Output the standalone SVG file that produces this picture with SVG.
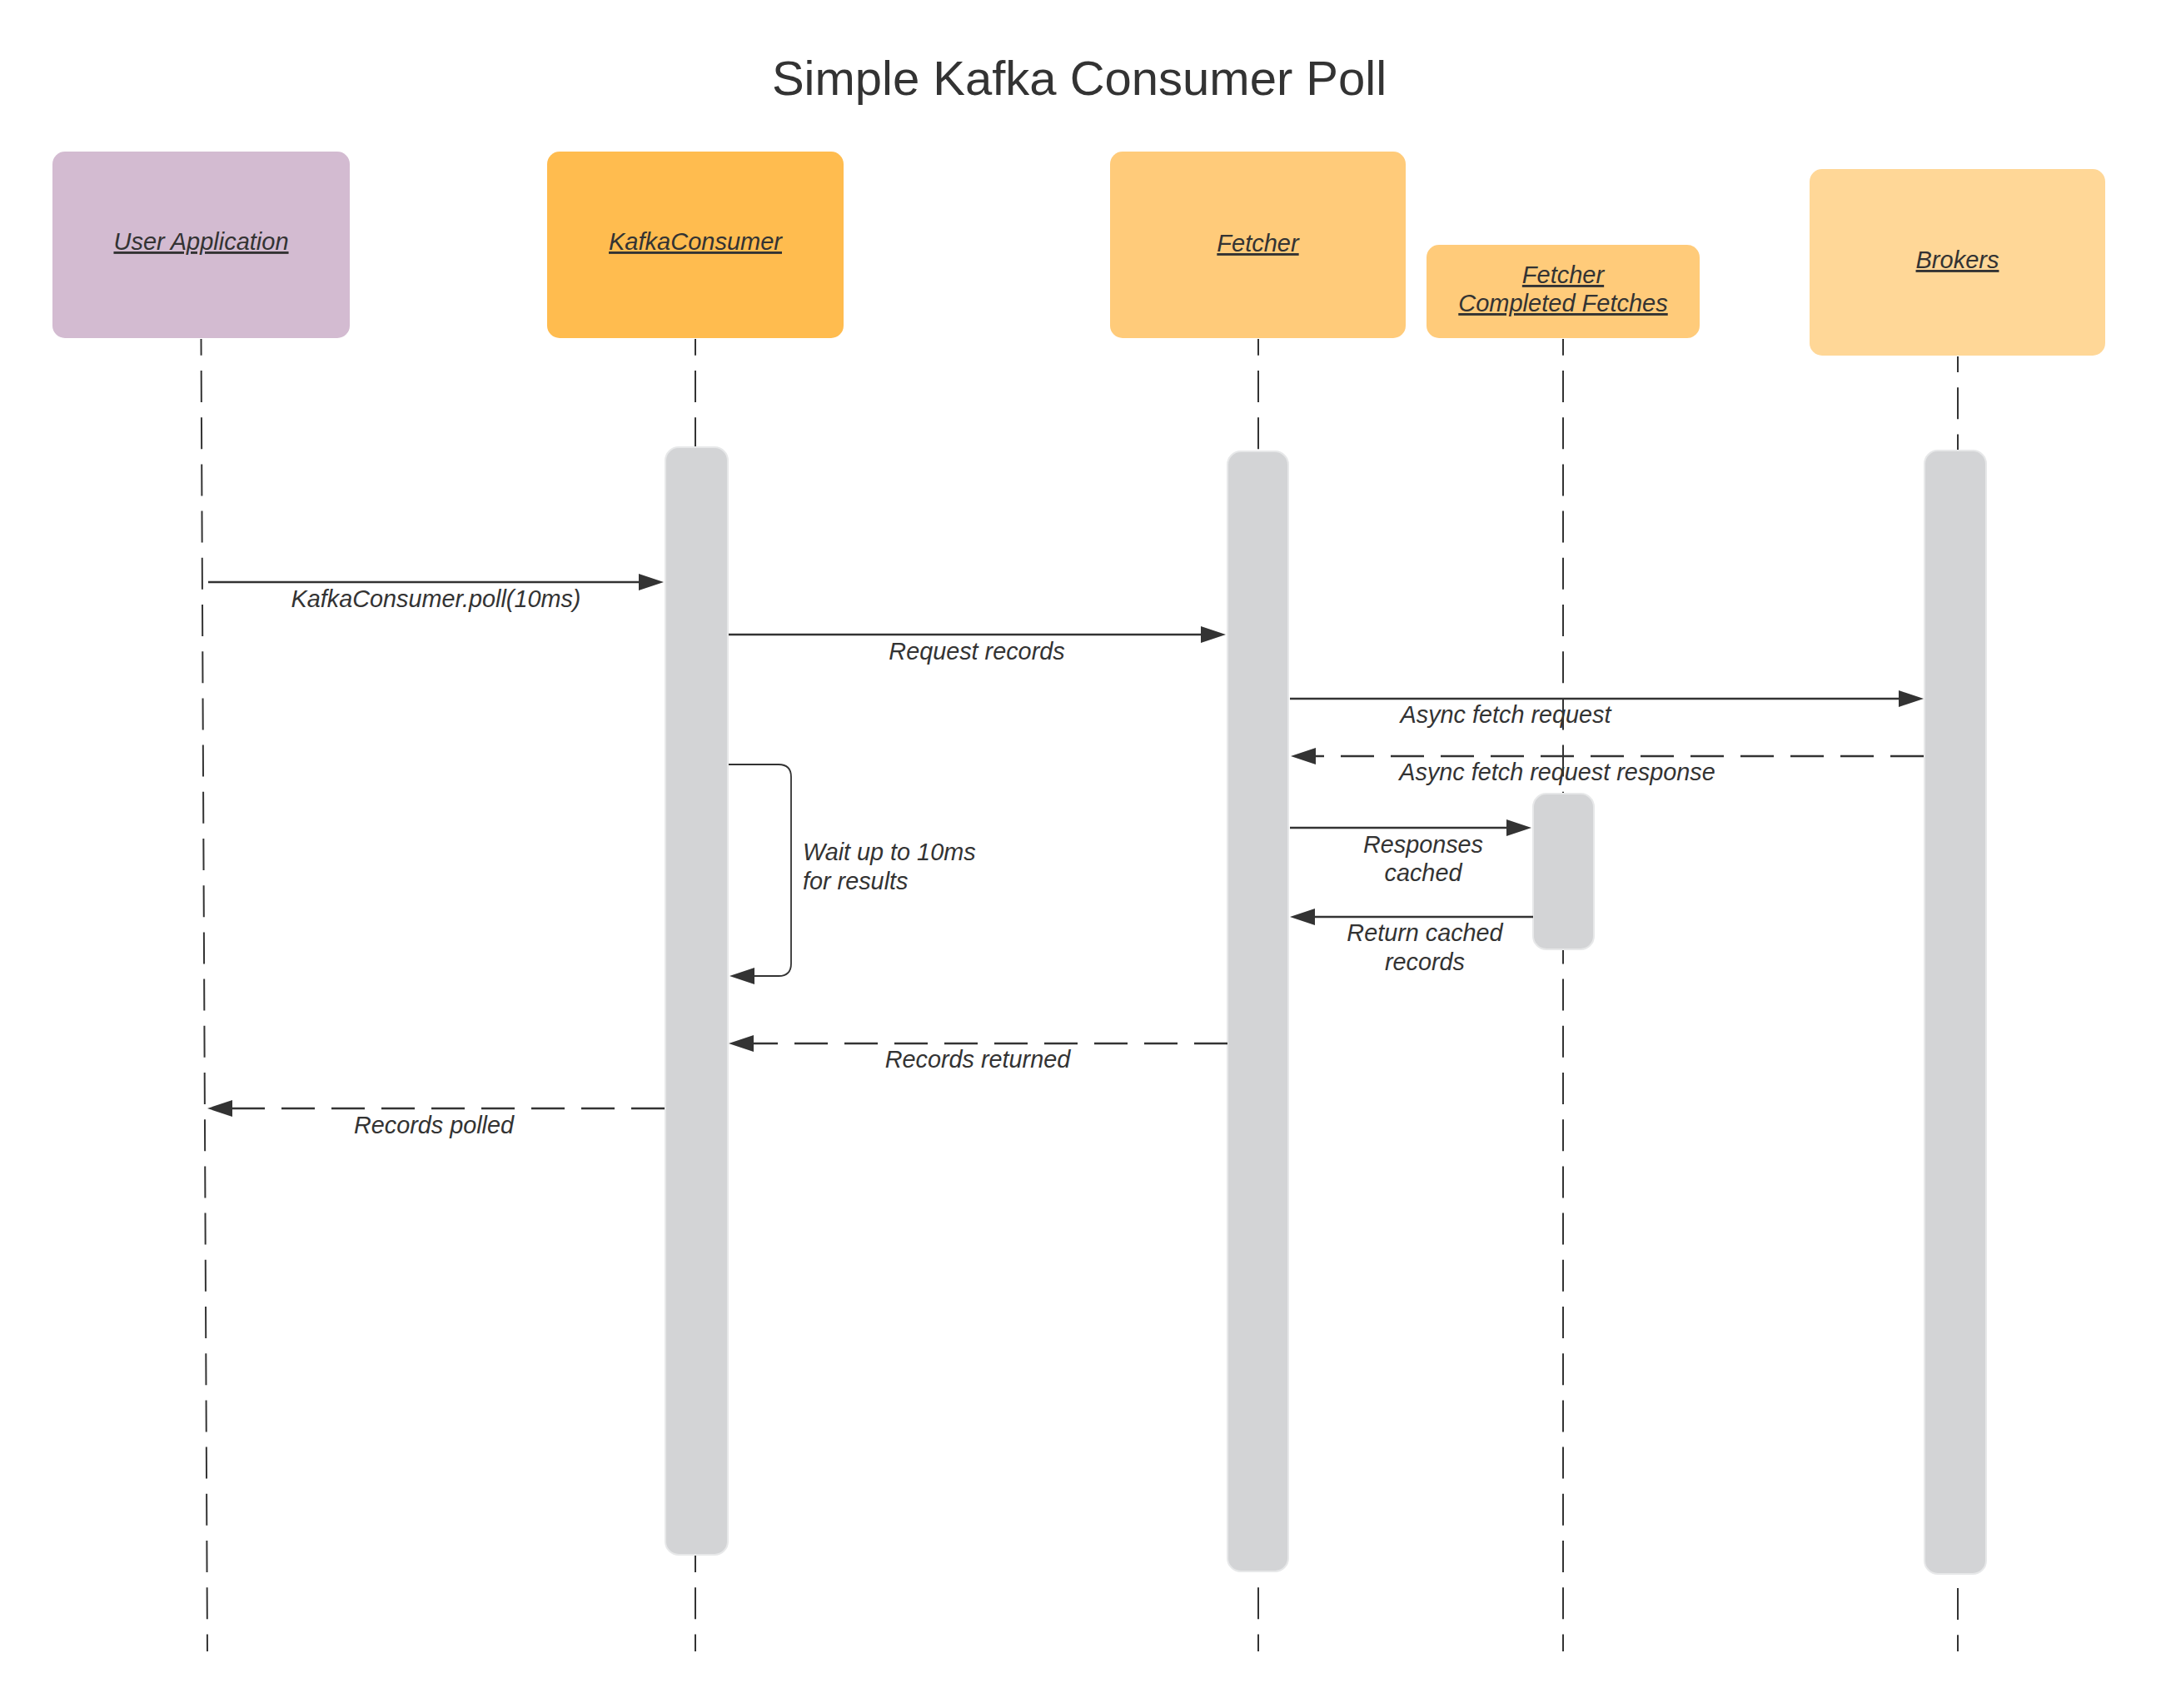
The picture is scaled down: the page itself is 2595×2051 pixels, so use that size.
<svg xmlns="http://www.w3.org/2000/svg" width="2595" height="2051" viewBox="0 0 2595 2051">
<defs>
<style>
text{font-family:"Liberation Sans",Arial,sans-serif;fill:#333333}
.title{font-size:58px}
.node{font-size:29px;font-style:italic;text-decoration:underline}
.lbl{font-size:28.8px;font-style:italic}
.life{stroke:#333333;stroke-width:2;fill:none;stroke-dasharray:38 18.2;stroke-dashoffset:18.2}
.act{fill:#d3d4d6;stroke:#e7e8e9;stroke-width:2}
.msg{stroke:#333333;stroke-width:2.5;fill:none}
.dash{stroke-dasharray:40 20}
.self{stroke:#333333;stroke-width:1.8;fill:none}
</style>
<marker id="ah" markerUnits="userSpaceOnUse" markerWidth="30" markerHeight="20" refX="15" refY="10" orient="auto" overflow="visible">
<path d="M0,0 L30,10 L0,20 Z" fill="#333333" stroke="none"/>
</marker>
</defs>
<rect width="2595" height="2051" fill="#ffffff"/>
<text class="title" x="1296" y="114" text-anchor="middle">Simple Kafka Consumer Poll</text>

<g id="lifelines">
<line class="life" x1="241.5" y1="407" x2="249" y2="1983"/>
<line class="life" x1="835" y1="407" x2="835" y2="1983"/>
<line class="life" x1="1511" y1="407" x2="1511" y2="1983"/>
<line class="life" x1="1877" y1="407" x2="1877" y2="1983"/>
<line class="life" x1="2351" y1="428" x2="2351" y2="541" style="stroke-dashoffset:19"/>
<line class="life" x1="2351" y1="1983" x2="2351" y2="1890"/>
</g>

<g id="user-application">
<rect x="63" y="182" width="357" height="224" rx="15" fill="#d3bbd1"/>
<text class="node" x="241.5" y="300" text-anchor="middle">User Application</text>
</g>
<g id="kafka-consumer">
<rect x="657" y="182" width="356" height="224" rx="15" fill="#ffbc4f"/>
<text class="node" x="835" y="300" text-anchor="middle">KafkaConsumer</text>
</g>
<g id="fetcher">
<rect x="1333" y="182" width="355" height="224" rx="15" fill="#ffcb7a"/>
<text class="node" x="1510.5" y="302" text-anchor="middle">Fetcher</text>
</g>
<g id="completed-fetches">
<rect x="1713" y="294" width="328" height="112" rx="15" fill="#ffcb7a"/>
<text class="node" x="1877" y="340" text-anchor="middle">Fetcher</text>
<text class="node" x="1877" y="374" text-anchor="middle">Completed Fetches</text>
</g>
<g id="brokers">
<rect x="2173" y="203" width="355" height="224" rx="15" fill="#ffd797"/>
<text class="node" x="2350.5" y="322" text-anchor="middle">Brokers</text>
</g>

<g id="activations">
<rect class="act" x="799" y="537" width="75" height="1330" rx="16"/>
<rect class="act" x="1474" y="542" width="73" height="1345" rx="16"/>
<rect class="act" x="2311" y="541" width="74" height="1349" rx="16"/>
<rect class="act" x="1841" y="953" width="73" height="187" rx="16"/>
</g>

<g id="connectors">
<line class="msg" x1="250" y1="699" x2="782" y2="699" marker-end="url(#ah)"/>
<line class="msg" x1="875" y1="762" x2="1457" y2="762" marker-end="url(#ah)"/>
<line class="msg" x1="1549" y1="839" x2="2295" y2="839" marker-end="url(#ah)"/>
<line class="msg dash" x1="2310" y1="908" x2="1565" y2="908" marker-end="url(#ah)"/>
<line class="msg" x1="1549" y1="994" x2="1824" y2="994" marker-end="url(#ah)"/>
<line class="msg" x1="1841" y1="1101" x2="1564" y2="1101" marker-end="url(#ah)"/>
<path class="self" d="M875,918 H935 Q950,918 950,933 V1157 Q950,1172 935,1172 H891" marker-end="url(#ah)"/>
<line class="msg dash" x1="1474" y1="1253" x2="890" y2="1253" marker-end="url(#ah)"/>
<line class="msg dash" x1="798" y1="1331" x2="264" y2="1331" marker-end="url(#ah)"/>
</g>

<g id="labels">
<text class="lbl" x="523.5" y="729" text-anchor="middle">KafkaConsumer.poll(10ms)</text>
<text class="lbl" x="1173" y="792" text-anchor="middle">Request records</text>
<text class="lbl" x="1808" y="868" text-anchor="middle">Async fetch request</text>
<text class="lbl" x="1870" y="937" text-anchor="middle">Async fetch request response</text>
<text class="lbl" x="1709" y="1024" text-anchor="middle">Responses</text>
<text class="lbl" x="1709" y="1058" text-anchor="middle">cached</text>
<text class="lbl" x="1711" y="1130" text-anchor="middle">Return cached</text>
<text class="lbl" x="1711" y="1165" text-anchor="middle">records</text>
<text class="lbl" x="964" y="1033">Wait up to 10ms</text>
<text class="lbl" x="964" y="1068">for results</text>
<text class="lbl" x="1174" y="1282" text-anchor="middle">Records returned</text>
<text class="lbl" x="521" y="1361" text-anchor="middle">Records polled</text>
</g>
</svg>
